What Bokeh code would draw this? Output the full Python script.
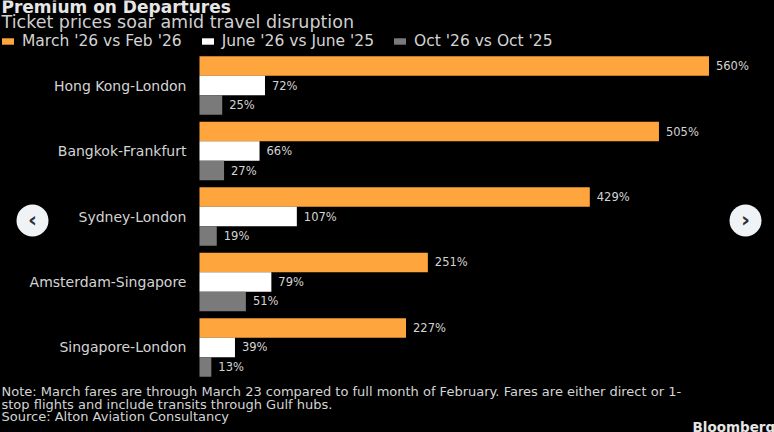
from bokeh.plotting import figure
from bokeh.models import ColumnDataSource, FactorRange, Label, Legend, LegendItem, BoxAnnotation
from bokeh.core.properties import value
from bokeh.embed import file_html
from bokeh.resources import INLINE

routes = ["Hong Kong-London", "Bangkok-Frankfurt", "Sydney-London", "Amsterdam-Singapore", "Singapore-London"]
march = [560, 505, 429, 251, 227]
june = [72, 66, 107, 79, 39]
october = [25, 27, 19, 51, 13]
series_names = ["March '26 vs Feb '26", "June '26 vs June '25", "Oct '26 vs Oct '25"]
colors = ["#FFA53D", "#FFFFFF", "#7A7A7A"]
FONT = "DejaVu Sans"
TXT = "#D4D4D4"
H = 432

p = figure(width=774, height=H, output_backend="svg", toolbar_location=None,
           y_range=FactorRange(factors=routes[::-1], range_padding=0.8, range_padding_units="absolute", factor_padding=0),
           x_range=(-218.7, 632), min_border=0,
           background_fill_color=None, border_fill_color=None, outline_line_color=None,
           styles={"background-color": "#000000"})
p.grid.visible = False
p.xaxis.visible = False
p.yaxis.fixed_location = 0
ax = p.yaxis[0]
ax.axis_line_color = None
ax.major_tick_line_color = None
ax.minor_tick_line_color = None
ax.major_tick_out = 0
ax.major_label_standoff = 13
ax.major_label_text_color = TXT
ax.major_label_text_font = FONT
ax.major_label_text_font_size = "14px"

items = []
for vals, name, color, off in zip([march, june, october], series_names, colors, [0.298, 0.0, -0.298]):
    src = ColumnDataSource(dict(y=[(r, off) for r in routes], v=vals, t=[f"{x}%" for x in vals]))
    r = p.hbar(y="y", right="v", left=0, height=0.298, fill_color=color, line_color=None, source=src)
    p.text(x="v", y="y", text="t", x_offset=7, text_baseline="middle", text_color=TXT,
           text_font=value(FONT), text_font_size="11.5px", source=src)
    items.append(LegendItem(label=name, renderers=[r]))

legend = Legend(items=items, orientation="horizontal", location=(0, H - 50), spacing=18,
                padding=4, margin=0, glyph_width=15, glyph_height=8, label_standoff=7,
                background_fill_alpha=0, border_line_color=None,
                label_text_color=TXT, label_text_font=FONT, label_text_font_size="15.5px")
p.add_layout(legend, "center")

def txt(s, x, y, size, color=TXT, style="normal", align="left"):
    p.add_layout(Label(x=x, y=H - y, x_units="screen", y_units="screen", text=s, text_color=color,
                       text_font=FONT, text_font_size=size, text_font_style=style,
                       text_align=align, text_baseline="middle"))

txt("Premium on Departures", 1, 6.5, "17px", "#E6E6E6", "bold")
txt("Ticket prices soar amid travel disruption", 1, 21, "17.5px", "#CFCFCF")
txt("Note: March fares are through March 23 compared to full month of February. Fares are either direct or 1-", 1, 391, "13px")
txt("stop flights and include transits through Gulf hubs.", 1, 403.5, "13px")
txt("Source: Alton Aviation Consultancy", 1, 416, "13px")
txt("Bloomberg", 692, 426, "13.5px", "#E6E6E6", "bold")

for cx, ch in ((32, "\u2039"), (745, "\u203a")):
    p.add_layout(BoxAnnotation(left=cx - 16, right=cx + 16, bottom=H - 236, top=H - 204,
                               left_units="screen", right_units="screen", top_units="screen", bottom_units="screen",
                               fill_color="#F0F3F6", fill_alpha=1, line_color=None, border_radius=16))
    txt(ch, cx, 219, "22px", "#2A3038", "bold", "center")

open("out.html", "w").write(file_html(p, INLINE))
